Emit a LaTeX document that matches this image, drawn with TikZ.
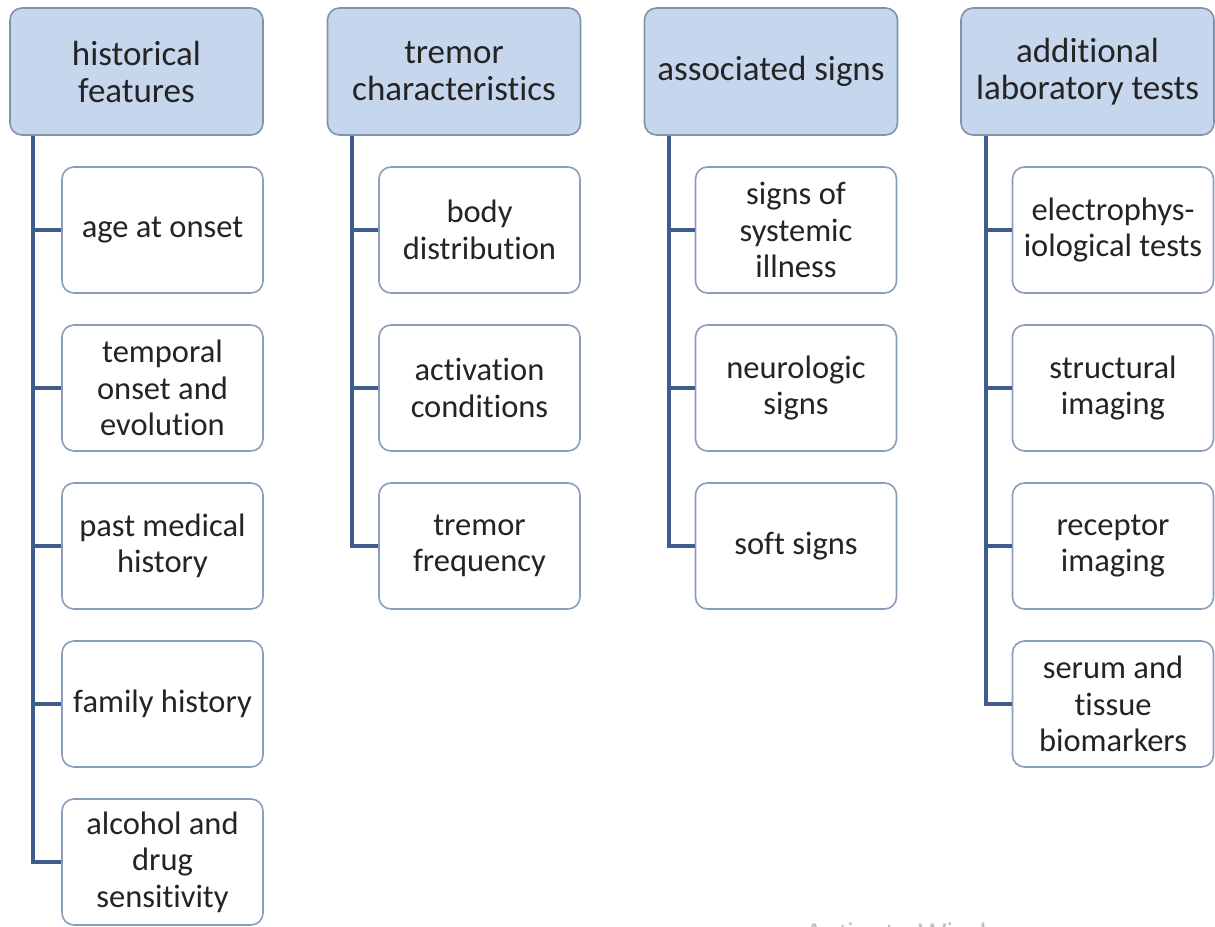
\documentclass[tikz,border=0pt]{standalone}
\usepackage{fontspec}
\setmainfont{Carlito}[Ligatures=NoCommon]
\newfontfamily\wmfont{Liberation Sans}
\definecolor{headfill}{RGB}{198,214,236}
\definecolor{headline}{RGB}{128,146,172}
\definecolor{itemline}{RGB}{138,158,188}
\definecolor{linkc}{RGB}{62,92,140}
\definecolor{txt}{RGB}{36,36,36}
\begin{document}
\begin{tikzpicture}[x=1pt,y=-1pt,
  head/.style={draw=headline, fill=headfill, line width=1.6pt, rounded corners=12pt,
    minimum width=253pt, minimum height=127pt, align=center, inner sep=0pt,
    font=\fontsize{35}{37}\selectfont, text=txt},
  item/.style={draw=itemline, fill=white, line width=1.6pt, rounded corners=12pt,
    minimum width=201pt, minimum height=126pt, align=center, inner sep=0pt,
    font=\fontsize{32.5}{36.5}\selectfont, text=txt},
  link/.style={draw=linkc, line width=4pt}
]
\useasboundingbox[fill=white] (0,0) rectangle (1215,926);

% column headers
\node[head] (h1) at (136.5,71.5) {historical\\features};
\node[head] (h2) at (454,71.5) {tremor\\characteristics};
\node[head] (h3) at (771,71.5) {associated signs};
\node[head] (h4) at (1087.5,71.5) {additional\\laboratory tests};

% trunk start points under each header
\coordinate (t1) at ([xshift=24pt]h1.south west);
\coordinate (t2) at ([xshift=25pt]h2.south west);
\coordinate (t3) at ([xshift=25pt]h3.south west);
\coordinate (t4) at ([xshift=26pt]h4.south west);

% column 1
\node[item] (a1) at (162.5,230) {age at onset};
\node[item] (a2) at (162.5,388) {temporal\\onset and\\evolution};
\node[item] (a3) at (162.5,546) {past medical\\history};
\node[item] (a4) at (162.5,704) {family history};
\node[item] (a5) at (162.5,862) {alcohol and\\drug\\sensitivity};

% column 2
\node[item] (b1) at (479.5,230) {body\\distribution};
\node[item] (b2) at (479.5,388) {activation\\conditions};
\node[item] (b3) at (479.5,546) {tremor\\frequency};

% column 3
\node[item] (c1) at (796,230) {signs of\\systemic\\illness};
\node[item] (c2) at (796,388) {neurologic\\signs};
\node[item] (c3) at (796,546) {soft signs};

% column 4
\node[item] (d1) at (1113,230) {electrophys-\\iological tests};
\node[item] (d2) at (1113,388) {structural\\imaging};
\node[item] (d3) at (1113,546) {receptor\\imaging};
\node[item] (d4) at (1113,704) {serum and\\tissue\\biomarkers};

% trunks ending in a corner at the last box
\draw[link] (t1) |- (a5.west);
\draw[link] (t2) |- (b3.west);
\draw[link] (t3) |- (c3.west);
\draw[link] (t4) |- (d4.west);

% branches to the other boxes
\foreach \n in {a1,a2,a3,a4} \draw[link] (\n.west -| t1) -- (\n.west);
\foreach \n in {b1,b2} \draw[link] (\n.west -| t2) -- (\n.west);
\foreach \n in {c1,c2} \draw[link] (\n.west -| t3) -- (\n.west);
\foreach \n in {d1,d2,d3} \draw[link] (\n.west -| t4) -- (\n.west);

% faint system notice at the lower edge
\begin{scope}
  \clip (0,0) rectangle (1215,926);
  \node[anchor=base west, inner sep=0pt, text=black!25, font=\wmfont\fontsize{29.8}{30}\selectfont]
    (wm) at (804,944) {Activate Windows};
\end{scope}
\end{tikzpicture}
\end{document}
